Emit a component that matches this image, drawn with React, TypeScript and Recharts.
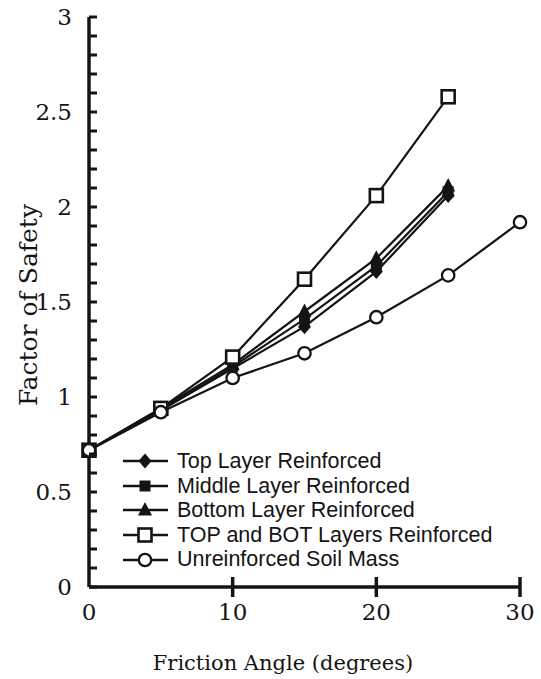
import { Legend, Line, LineChart, XAxis, YAxis } from "recharts";

const angles = [0, 5, 10, 15, 20, 25, 30];
const topLayer = [0.72, 0.93, 1.15, 1.37, 1.66, 2.06];
const middleLayer = [0.72, 0.93, 1.16, 1.41, 1.69, 2.08];
const bottomLayer = [0.72, 0.94, 1.17, 1.45, 1.73, 2.11];
const topBotLayers = [0.72, 0.94, 1.21, 1.62, 2.06, 2.58];
const unreinforced = [0.72, 0.92, 1.1, 1.23, 1.42, 1.64, 1.92];

const xTicks = [0, 10, 20, 30];
const yTicks = [
	0, 0.1, 0.2, 0.3, 0.4, 0.5, 0.6, 0.7, 0.8, 0.9, 1, 1.1, 1.2, 1.3, 1.4, 1.5, 1.6, 1.7, 1.8, 1.9, 2, 2.1, 2.2,
	2.3, 2.4, 2.5, 2.6, 2.7, 2.8, 2.9, 3,
];

type Shape = "diamond" | "square" | "triangle" | "openSquare" | "circle";

const SERIES: { key: string; name: string; shape: Shape }[] = [
	{ key: "top", name: "Top Layer Reinforced", shape: "diamond" },
	{ key: "middle", name: "Middle Layer Reinforced", shape: "square" },
	{ key: "bottom", name: "Bottom Layer Reinforced", shape: "triangle" },
	{ key: "topBot", name: "TOP and BOT Layers Reinforced", shape: "openSquare" },
	{ key: "unreinforced", name: "Unreinforced Soil Mass", shape: "circle" },
];

const chartData = angles.map((a, i) => ({
	angle: a,
	top: topLayer[i],
	middle: middleLayer[i],
	bottom: bottomLayer[i],
	topBot: topBotLayers[i],
	unreinforced: unreinforced[i],
}));

const INK = "#141414";
const PLOT_LEFT = 89;
const PLOT_BOTTOM = 587;
const SERIF = "'DejaVu Serif', 'Liberation Serif', serif";
const SANS = "'Liberation Sans', Arial, sans-serif";

function MarkerShape({ shape, cx, cy }: { shape: Shape; cx: number; cy: number }) {
	switch (shape) {
		case "diamond":
			return <polygon points={`${cx},${cy - 7.5} ${cx + 6.5},${cy} ${cx},${cy + 7.5} ${cx - 6.5},${cy}`} fill={INK} />;
		case "square":
			return <rect x={cx - 5.5} y={cy - 5.5} width={11} height={11} fill={INK} />;
		case "triangle":
			return <polygon points={`${cx},${cy - 8} ${cx + 7},${cy + 5.5} ${cx - 7},${cy + 5.5}`} fill={INK} />;
		case "openSquare":
			return <rect x={cx - 6.5} y={cy - 6.5} width={13} height={13} fill="#fff" stroke={INK} strokeWidth={2.6} />;
		default:
			return <circle cx={cx} cy={cy} r={6.2} fill="#fff" stroke={INK} strokeWidth={2.3} />;
	}
}

function YTick(props: any) {
	const { y, payload } = props;
	const v = payload.value as number;
	const major = Math.abs(v * 2 - Math.round(v * 2)) < 1e-6;
	return (
		<g>
			<line x1={PLOT_LEFT} x2={PLOT_LEFT + 8} y1={y} y2={y} stroke={INK} strokeWidth={3} />
			{major && (
				<text x={PLOT_LEFT - 17} y={y} textAnchor="end" dominantBaseline="central" fontFamily={SERIF} fontSize={23} fill={INK}>
					{String(Math.round(v * 10) / 10)}
				</text>
			)}
		</g>
	);
}

function XTick(props: any) {
	const { x, payload } = props;
	return (
		<g>
			{payload.value > 0 && <line x1={x} x2={x} y1={PLOT_BOTTOM - 10} y2={PLOT_BOTTOM + 10} stroke={INK} strokeWidth={3.5} />}
			<text x={x} y={PLOT_BOTTOM + 25} textAnchor="middle" dominantBaseline="central" fontFamily={SERIF} fontSize={23} fill={INK}>
				{payload.value}
			</text>
		</g>
	);
}

function LegendBox() {
	return (
		<div style={{ fontFamily: SANS, fontSize: 21.5, color: INK, lineHeight: "24.6px" }}>
			{SERIES.map((s) => (
				<div key={s.key} style={{ display: "flex", alignItems: "center", height: 24.6 }}>
					<svg width={55} height={20} style={{ flex: "none" }}>
						<line x1={1} x2={46} y1={10} y2={10} stroke={INK} strokeWidth={2.6} />
						<MarkerShape shape={s.shape} cx={23} cy={10} />
					</svg>
					<span style={{ whiteSpace: "nowrap" }}>{s.name}</span>
				</div>
			))}
		</div>
	);
}

export default function App() {
	return (
		<div style={{ position: "absolute", left: 0, top: 0, width: 541, height: 679, background: "#fff" }}>
			<LineChart width={541} height={679} data={chartData} margin={{ top: 17, right: 21, bottom: 0, left: 0 }}>
				<XAxis
					dataKey="angle"
					type="number"
					domain={[0, 30]}
					ticks={xTicks}
					tick={<XTick />}
					tickLine={false}
					axisLine={{ stroke: INK, strokeWidth: 3.5 }}
					height={92}
					label={{
						content: () => (
							<text x={283} y={663} textAnchor="middle" dominantBaseline="central" fontFamily={SERIF} fontSize={21} fill={INK}>
								Friction Angle (degrees)
							</text>
						),
					}}
				/>
				<YAxis
					type="number"
					domain={[0, 3]}
					ticks={yTicks}
					interval={0}
					tick={<YTick />}
					tickLine={false}
					axisLine={{ stroke: INK, strokeWidth: 3.5 }}
					width={89}
					label={{
						content: () => (
							<text
								x={28}
								y={305}
								transform="rotate(-90 28 305)"
								textAnchor="middle"
								dominantBaseline="central"
								fontFamily={SERIF}
								fontSize={25}
								fill={INK}
							>
								Factor of Safety
							</text>
						),
					}}
				/>
				{SERIES.map((s) => (
					<Line
						key={s.key}
						dataKey={s.key}
						name={s.name}
						stroke={INK}
						strokeWidth={2.2}
						isAnimationActive={false}
						dot={(p: any) =>
							p.value == null ? <g key={p.index} /> : <MarkerShape key={p.index} shape={s.shape} cx={p.cx} cy={p.cy} />
						}
						activeDot={false}
					/>
				))}
				<Legend
					layout="vertical"
					verticalAlign="middle"
					align="center"
					content={<LegendBox />}
					wrapperStyle={{ left: 122, top: 449, width: "auto", height: "auto" }}
				/>
			</LineChart>
		</div>
	);
}
